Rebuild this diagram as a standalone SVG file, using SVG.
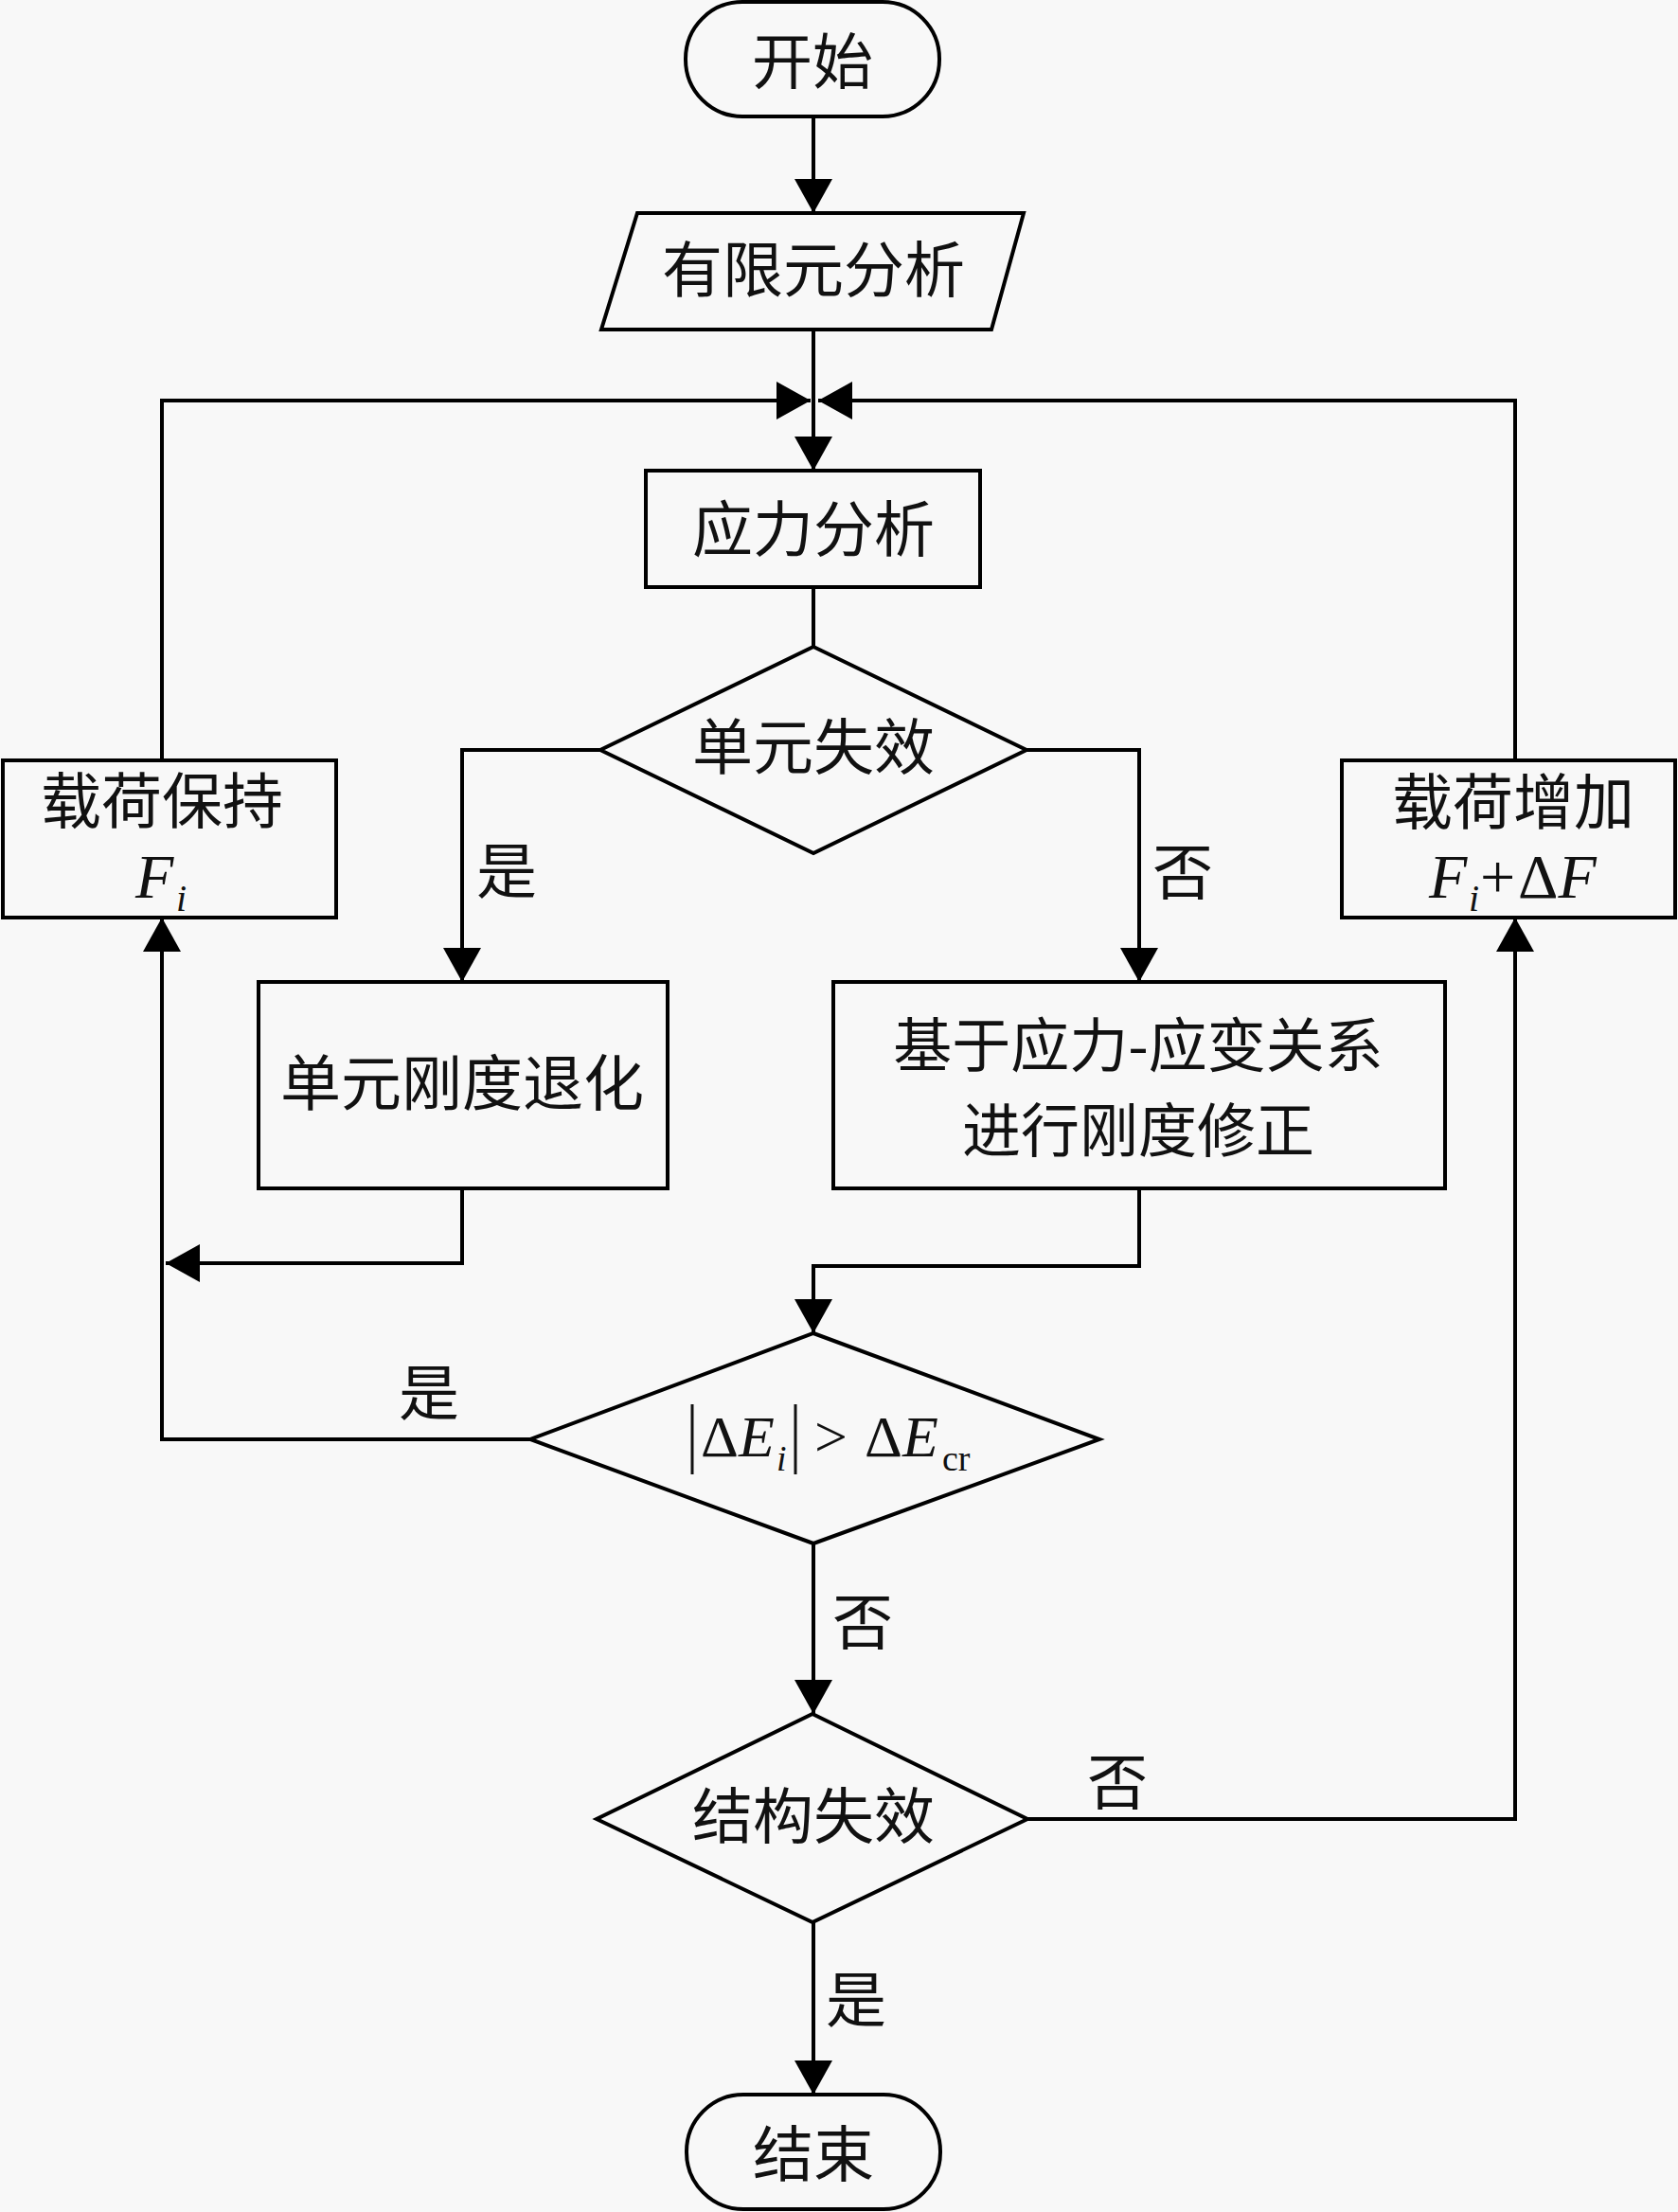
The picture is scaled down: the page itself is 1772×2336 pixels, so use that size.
<svg xmlns="http://www.w3.org/2000/svg" width="1772" height="2336" viewBox="0 0 1772 2336">
<style>
.bg{fill:#f8f8f8}
.node{fill:#f8f8f8;stroke:#000;stroke-width:4}
.conn{fill:none;stroke:#000;stroke-width:4}
.cjk{font-family:"Noto Sans CJK SC","Noto Sans CJK TC",sans-serif;font-size:64px;fill:#111;text-anchor:middle}
.cjk2{font-size:62px}
.math{font-family:"Liberation Serif","Times New Roman",serif;fill:#111}
.it{font-style:italic}
</style>
<defs>
<marker id="arr" markerUnits="userSpaceOnUse" markerWidth="36" markerHeight="40" viewBox="0 0 36 40" refX="36" refY="20" orient="auto">
<path d="M0,0 L36,20 L0,40 z" fill="#000"/>
</marker>
</defs>
<rect class="bg" x="0" y="0" width="1772" height="2336"/>

<g id="connectors">
<path class="conn" d="M859,123 V225" marker-end="url(#arr)"/>
<path class="conn" d="M859,348 V497" marker-end="url(#arr)"/>
<path class="conn" d="M859,620 V683"/>
<path class="conn" d="M634,792 H488 V1037" marker-end="url(#arr)"/>
<path class="conn" d="M1084,792 H1203 V1037" marker-end="url(#arr)"/>
<path class="conn" d="M488,1255 V1334 H175" marker-end="url(#arr)"/>
<path class="conn" d="M1203,1255 V1337 H859 V1408" marker-end="url(#arr)"/>
<path class="conn" d="M560,1520 H171 V969" marker-end="url(#arr)"/>
<path class="conn" d="M171,803 V423 H856" marker-end="url(#arr)"/>
<path class="conn" d="M859,1630 V1810" marker-end="url(#arr)"/>
<path class="conn" d="M1085,1921 H1600 V969" marker-end="url(#arr)"/>
<path class="conn" d="M1600,803 V423 H864" marker-end="url(#arr)"/>
<path class="conn" d="M859,2030 V2212" marker-end="url(#arr)"/>
<text class="cjk" x="535" y="943">是</text>
<text class="cjk" x="1249" y="944">否</text>
<text class="cjk" x="453" y="1494">是</text>
<text class="cjk" x="911" y="1736">否</text>
<text class="cjk" x="1180" y="1905">否</text>
<text class="cjk" x="904" y="2135">是</text>
</g>

<g id="start">
<rect class="node" x="724" y="2" width="268" height="121" rx="60" ry="60"/>
<text class="cjk" x="858" y="88">开始</text>
</g>

<g id="fea">
<polygon class="node" points="673,225 1081,225 1047,348 635,348"/>
<text class="cjk" x="859" y="308">有限元分析</text>
</g>

<g id="stress">
<rect class="node" x="682" y="497" width="353" height="123"/>
<text class="cjk" x="859" y="582">应力分析</text>
</g>

<g id="elemFail">
<polygon class="node" points="859,683 1084,792 859,901 634,792"/>
<text class="cjk" x="859" y="812">单元失效</text>
</g>

<g id="holdLoad">
<rect class="node" x="3" y="803" width="352" height="166"/>
<text class="cjk" x="171" y="869">载荷保持</text>
<text class="math it" x="143" y="948" font-size="66">F</text>
<text class="math it" x="186" y="962" font-size="40">i</text>
</g>

<g id="incLoad">
<rect class="node" x="1417" y="803" width="352" height="166"/>
<text class="cjk" x="1598" y="870">载荷增加</text>
<text class="math it" x="1509" y="948" font-size="66">F</text>
<text class="math it" x="1551" y="962" font-size="40">i</text>
<text class="math" x="1563" y="948" font-size="66">+</text>
<text class="math" x="1603" y="948" font-size="66">Δ<tspan class="it">F</tspan></text>
</g>

<g id="degrade">
<rect class="node" x="273" y="1037" width="432" height="218"/>
<text class="cjk" x="488" y="1167">单元刚度退化</text>
</g>

<g id="correct">
<rect class="node" x="880" y="1037" width="646" height="218"/>
<text class="cjk cjk2" x="1202" y="1127">基于应力-应变关系</text>
<text class="cjk cjk2" x="1202" y="1217">进行刚度修正</text>
</g>

<g id="check">
<polygon class="node" points="859,1408 1161,1520 859,1630 560,1520"/>
<line x1="731" y1="1483" x2="731" y2="1557" stroke="#111" stroke-width="3"/>
<line x1="840" y1="1483" x2="840" y2="1557" stroke="#111" stroke-width="3"/>
<text class="math" x="740" y="1538" font-size="62">Δ<tspan class="it">E</tspan></text>
<text class="math it" x="820" y="1553" font-size="38">i</text>
<text class="math" x="860" y="1538" font-size="62">&gt;</text>
<text class="math" x="913" y="1538" font-size="62">Δ<tspan class="it">E</tspan></text>
<text class="math" x="995" y="1553" font-size="38">cr</text>
</g>

<g id="structFail">
<polygon class="node" points="858,1810 1085,1921 858,2030 630,1921"/>
<text class="cjk" x="859" y="1941">结构失效</text>
</g>

<g id="end">
<rect class="node" x="725" y="2212" width="268" height="121" rx="60" ry="60"/>
<text class="cjk" x="859" y="2298">结束</text>
</g>
</svg>
